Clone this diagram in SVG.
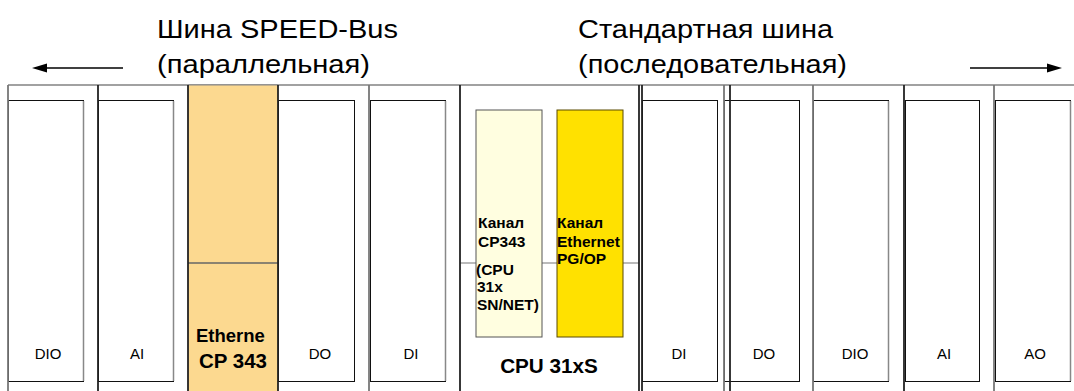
<svg xmlns="http://www.w3.org/2000/svg" width="1074" height="391" viewBox="0 0 1074 391">
<defs>
<style>
.hdr{font-family:"Liberation Sans",Arial,sans-serif;font-size:26.5px;fill:#000}
.lbl{font-family:"Liberation Sans",Arial,sans-serif;font-size:15px;fill:#000;text-anchor:middle}
.bold{font-family:"Liberation Sans",Arial,sans-serif;font-weight:bold;fill:#000}
.inner{fill:#fff;stroke:#111;stroke-width:1}
.shade{stroke:#888;stroke-width:1.5}
.div{stroke:#222;stroke-width:1.8}
.divg{stroke:#777;stroke-width:1.8}
.arrow{stroke:#000;stroke-width:1.3;fill:none}
</style>
</defs>
<rect width="1074" height="391" fill="#fff"/>
<text class="hdr" x="157" y="38" textLength="241" lengthAdjust="spacingAndGlyphs">Шина SPEED-Bus</text>
<text class="hdr" x="157" y="73" textLength="213" lengthAdjust="spacingAndGlyphs">(параллельная)</text>
<text class="hdr" x="578" y="38" textLength="255" lengthAdjust="spacingAndGlyphs">Стандартная шина</text>
<text class="hdr" x="578" y="73" textLength="269" lengthAdjust="spacingAndGlyphs">(последовательная)</text>

<g id="connectors">
<line class="arrow" x1="123" y1="68" x2="45" y2="68"/>
<polygon points="32,68 47,63.5 47,72.5" fill="#000"/>
<line class="arrow" x1="970" y1="68" x2="1049" y2="68"/>
<polygon points="1062,68 1047,63.5 1047,72.5" fill="#000"/>
</g>

<g id="rack">
<line x1="8" y1="85" x2="1074" y2="85" stroke="#444" stroke-width="1.2"/>
</g>

<g id="mod-ethernet-cp343">
<rect x="188" y="85" width="90" height="306" fill="#FCD990"/>
<line x1="188" y1="85" x2="278" y2="85" stroke="#888" stroke-width="1.2"/>
<line x1="188" y1="263" x2="278" y2="263" stroke="#666" stroke-width="1.5"/>
<text class="bold" x="196" y="342" font-size="18.5">Etherne</text>
<text class="bold" x="199" y="368" font-size="20.5">CP 343</text>
</g>

<g id="mod-cpu">
<line x1="460" y1="263" x2="639" y2="263" stroke="#777" stroke-width="1.2"/>
<rect x="476" y="110" width="66" height="227" fill="#FFFEE0" stroke="#555" stroke-width="1"/>
<rect x="557" y="110" width="66" height="227" fill="#FFE100" stroke="#5a4a00" stroke-width="1"/>
<text class="bold" font-size="15.5" x="478" y="228">Канал</text>
<text class="bold" font-size="15.5" x="478" y="247">CP343</text>
<text class="bold" font-size="15.5" x="476" y="275">(CPU</text>
<text class="bold" font-size="15.5" x="477" y="292">31x</text>
<text class="bold" font-size="15.5" x="477" y="310">SN/NET)</text>
<text class="bold" font-size="15.5" x="557" y="228">Канал</text>
<text class="bold" font-size="15.5" x="557" y="247">Ethernet</text>
<text class="bold" font-size="15.5" x="557" y="264">PG/OP</text>
<text class="bold" font-size="20.7" x="549" y="373" text-anchor="middle">CPU 31xS</text>
</g>

<g id="mod-dio-1">
<rect class="inner" x="8.5" y="100.5" width="75" height="281"/>
<line class="shade" x1="83.5" y1="101" x2="83.5" y2="381"/>
<text class="lbl" x="48" y="359">DIO</text>
</g>
<g id="mod-ai-1">
<rect class="inner" x="98.5" y="100.5" width="75" height="281"/>
<line class="shade" x1="173.5" y1="101" x2="173.5" y2="381"/>
<text class="lbl" x="137" y="359">AI</text>
</g>
<g id="mod-do-1">
<rect class="inner" x="278.5" y="100.5" width="76" height="281"/>
<text class="lbl" x="320" y="359">DO</text>
</g>
<g id="mod-di-1">
<rect class="inner" x="370.5" y="100.5" width="75" height="281"/>
<line class="shade" x1="445.5" y1="101" x2="445.5" y2="381"/>
<text class="lbl" x="411" y="359">DI</text>
</g>
<g id="mod-di-2">
<rect class="inner" x="642.5" y="100.5" width="75" height="281"/>
<text class="lbl" x="679" y="359">DI</text>
</g>
<g id="mod-do-2">
<rect class="inner" x="724.5" y="100.5" width="75" height="281"/>
<text class="lbl" x="764" y="359">DO</text>
</g>
<g id="mod-dio-2">
<rect class="inner" x="813.5" y="100.5" width="75" height="281"/>
<line class="shade" x1="888.5" y1="101" x2="888.5" y2="381"/>
<text class="lbl" x="855" y="359">DIO</text>
</g>
<g id="mod-ai-2">
<rect class="inner" x="905.5" y="100.5" width="74" height="281"/>
<text class="lbl" x="944" y="359">AI</text>
</g>
<g id="mod-ao">
<rect class="inner" x="995.5" y="100.5" width="75" height="281"/>
<line class="shade" x1="1070.5" y1="101" x2="1070.5" y2="381"/>
<text class="lbl" x="1035" y="359">AO</text>
</g>

<g id="dividers">
<line class="divg" x1="8" y1="85" x2="8" y2="391"/>
<line class="div" x1="98" y1="85" x2="98" y2="391"/>
<line class="div" x1="188" y1="85" x2="188" y2="391"/>
<line class="div" x1="278" y1="85" x2="278" y2="391"/>
<line class="divg" x1="369" y1="85" x2="369" y2="391"/>
<line class="div" x1="460" y1="85" x2="460" y2="391"/>
<line class="div" x1="639" y1="85" x2="639" y2="391"/>
<line class="div" x1="642" y1="85" x2="642" y2="391"/>
<line class="divg" x1="724" y1="85" x2="724" y2="391"/>
<line class="div" x1="730" y1="85" x2="730" y2="391"/>
<line class="divg" x1="813" y1="85" x2="813" y2="391"/>
<line class="div" x1="904" y1="85" x2="904" y2="391"/>
<line class="divg" x1="994" y1="85" x2="994" y2="391"/>
</g>
</svg>
